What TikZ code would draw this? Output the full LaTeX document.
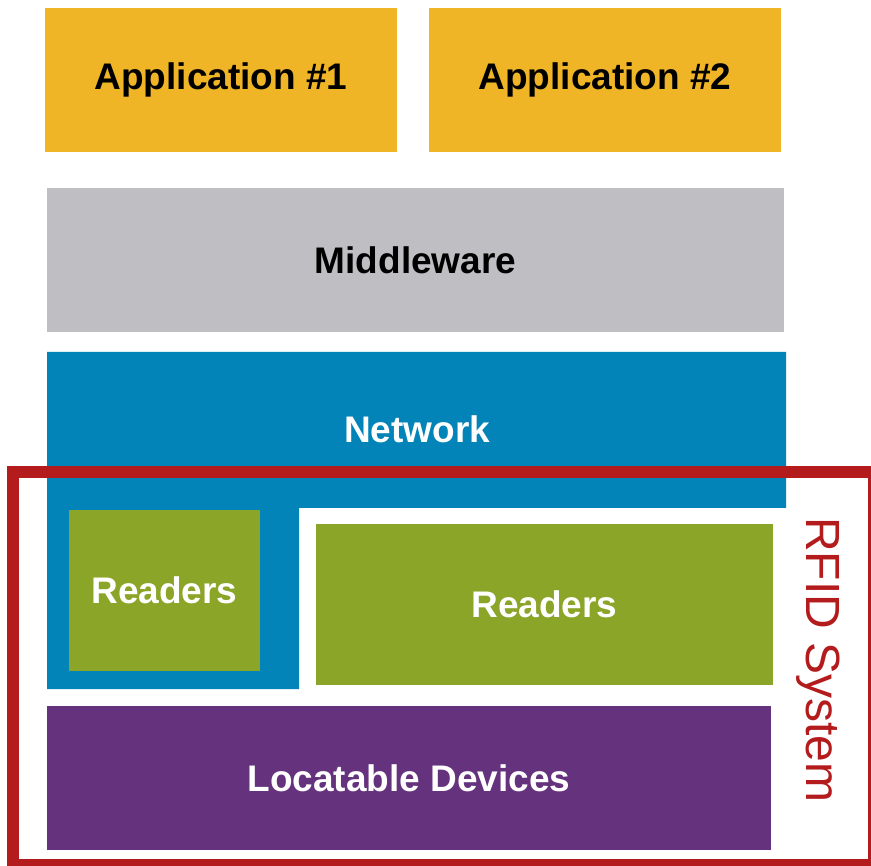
\documentclass[tikz,border=0pt]{standalone}
\usepackage{fontspec}
\setmainfont{Liberation Sans}
\definecolor{appyel}{HTML}{F0B526}
\definecolor{midgray}{HTML}{BFBEC3}
\definecolor{netblue}{HTML}{0284B8}
\definecolor{readgreen}{HTML}{8BA528}
\definecolor{devpurple}{HTML}{65327D}
\definecolor{rfidred}{HTML}{B31B1C}
\begin{document}
\begin{tikzpicture}[x=1pt,y=-1pt,
  layerbox/.style={rectangle,inner sep=0pt,outer sep=0pt,anchor=north west},
  lbl/.style={font=\fontsize{37}{40}\selectfont\bfseries},
  rfidlbl/.style={font=\fontsize{48}{52}\selectfont,text=rfidred,rotate=-90}]
\useasboundingbox (0,0) rectangle (871,866);
\fill[white] (0,0) rectangle (871,866);
% applications
\node[layerbox,fill=appyel,minimum width=352,minimum height=144] (app1) at (45,8) {};
\node[lbl] (app1t) at (app1.center) {Application \#1};
\node[layerbox,fill=appyel,minimum width=352,minimum height=144] (app2) at (429,8) {};
\node[lbl] (app2t) at (app2.center) {Application \#2};
% middleware
\node[layerbox,fill=midgray,minimum width=737,minimum height=144] (mid) at (47,188) {};
\node[lbl] (midt) at (mid.center) {Middleware};
% network (L shape)
\fill[netblue] (47,352) -- (786,352) -- (786,508) -- (299,508) -- (299,689) -- (47,689) -- cycle;
\node[lbl,text=white] (nett) at (417,429) {Network};
% readers
\node[layerbox,fill=readgreen,minimum width=191,minimum height=161] (rd1) at (69,510) {};
\node[lbl,text=white] (rd1t) at (rd1.center) {Readers};
\node[layerbox,fill=readgreen,minimum width=457,minimum height=161] (rd2) at (316,524) {};
\node[lbl,text=white] (rd2t) at (rd2.center) {Readers};
% locatable devices
\node[layerbox,fill=devpurple,minimum width=724,minimum height=144] (dev) at (47,706) {};
\node[lbl,text=white] (devt) at (dev.center) {Locatable Devices};
% RFID system frame
\draw[rfidred,line width=12] (13,472) rectangle (874,865);
\node[rfidlbl] (rfidt) at (818,660) {RFID System};
\end{tikzpicture}
\end{document}
